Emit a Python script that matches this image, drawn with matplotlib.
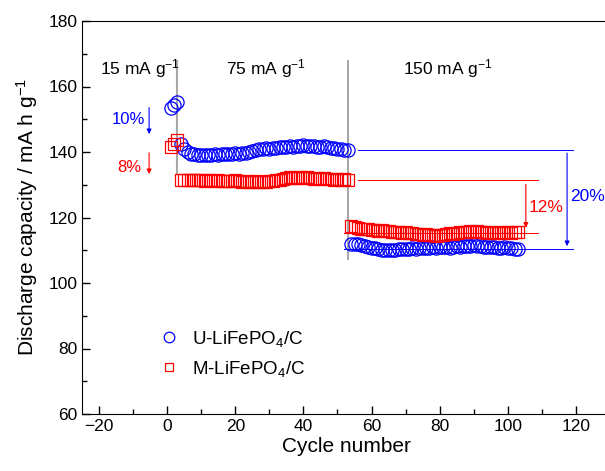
import matplotlib.pyplot as plt
import numpy as np

plt.rcParams['font.family'] = ['Liberation Sans', 'DejaVu Sans']
plt.rcParams['mathtext.fontset'] = 'custom'
plt.rcParams['mathtext.rm'] = 'Liberation Sans'
plt.rcParams['mathtext.it'] = 'Liberation Sans:italic'

# discharge capacity per cycle (mA h g-1)
u_15 = [153.5, 154.5, 155.3]
u_75 = [142.5, 141.0, 140.0, 139.5, 139.3, 139.2, 139.0, 139.1, 139.2, 139.0,
        139.3, 139.2, 139.4, 139.3, 139.5, 139.4, 139.6, 139.5, 139.8, 139.7,
        140.0, 140.2, 140.6, 140.9, 141.0, 141.2, 140.9, 141.1, 141.3, 141.5,
        141.4, 141.6, 141.8, 141.5, 141.7, 141.9, 142.0, 141.8, 141.7, 141.9,
        141.6, 141.5, 141.7, 141.4, 141.3, 141.2, 141.0, 140.9, 140.7, 140.5]
u_150 = [112.0, 111.8, 111.9, 111.5, 111.3, 111.0, 110.8, 110.6, 110.4, 110.2,
         110.1, 110.0, 110.2, 110.1, 110.3, 110.4, 110.5, 110.3, 110.6, 110.5,
         110.7, 110.6, 110.8, 110.7, 110.9, 110.8, 111.0, 110.9, 111.1, 110.8,
         111.0, 111.2, 111.1, 111.3, 111.4, 111.2, 111.5, 111.3, 111.2, 111.0,
         111.1, 110.9, 111.0, 110.8, 110.7, 110.9, 110.6, 110.8, 110.5, 110.3]

m_15 = [141.5, 142.5, 143.8]
m_75 = [131.6, 131.4, 131.5, 131.3, 131.6, 131.4, 131.5, 131.2, 131.4, 131.3,
        131.1, 131.3, 131.2, 131.0, 131.2, 131.1, 131.3, 131.0, 130.9, 131.1,
        130.8, 130.9, 131.0, 130.7, 130.9, 130.8, 131.2, 131.0, 131.3, 131.6,
        131.9, 132.1, 132.3, 132.0, 132.2, 132.4, 132.1, 132.3, 132.0, 131.9,
        132.1, 131.8, 132.0, 131.7, 131.9, 131.6, 131.8, 131.5, 131.7, 131.5]
m_150 = [117.5, 117.0, 116.8, 116.6, 116.4, 116.5, 116.2, 116.3, 116.0, 116.1,
         115.8, 115.9, 115.6, 115.7, 115.5, 115.4, 115.6, 115.3, 115.2, 115.0,
         115.1, 114.8, 114.9, 114.6, 114.7, 114.5, 114.8, 114.6, 114.9, 115.2,
         115.0, 115.4, 115.6, 115.5, 115.7, 115.8, 115.6, 115.9, 115.7, 115.5,
         115.3, 115.6, 115.4, 115.2, 115.5, 115.3, 115.6, 115.4, 115.7, 115.5]

u_cap = u_15 + u_75 + u_150
m_cap = m_15 + m_75 + m_150
cycles = np.arange(1, len(u_cap) + 1)

rate_labels = ['15 mA g$^{-1}$', '75 mA g$^{-1}$', '150 mA g$^{-1}$']
rate_x = [-8, 29, 82.5]
rate_switch = [3, 53]

fig = plt.figure(figsize=(6.05, 4.71), dpi=100)
ax = fig.add_axes([82/605, 1 - 414/471, 528/605, 393/471])

ax.plot(cycles, u_cap, 'o', mfc='none', mec='blue', ms=9.5, mew=0.9,
        label='U-LiFePO$_4$/C', zorder=3)
ax.plot(cycles, m_cap, 's', mfc='none', mec='red', ms=8, mew=0.9,
        label='M-LiFePO$_4$/C', zorder=3)

# rate change markers
ax.plot([rate_switch[0]] * 2, [133.5, 167.8], color='#a8a8a8', lw=1.5, zorder=1)
ax.plot([rate_switch[1]] * 2, [107.3, 167.8], color='#a8a8a8', lw=1.5, zorder=1)
for lab, xx in zip(rate_labels, rate_x):
    ax.text(xx, 165.6, lab, ha='center', va='center', fontsize=12.5)

# capacity drop annotations
ax.annotate('', xy=(-5.3, 144.6), xytext=(-5.3, 154.4),
            arrowprops=dict(arrowstyle='-|>', color='blue', lw=0.8, mutation_scale=7))
ax.text(-11.3, 149.8, '10%', color='blue', ha='center', va='center', fontsize=12)
ax.annotate('', xy=(-5.3, 132.4), xytext=(-5.3, 140.6),
            arrowprops=dict(arrowstyle='-|>', color='red', lw=0.8, mutation_scale=7))
ax.text(-11.1, 135.4, '8%', color='red', ha='center', va='center', fontsize=12)

ax.plot([56, 119], [140.5, 140.5], color='blue', lw=0.7)
ax.plot([52, 119], [110.4, 110.4], color='blue', lw=0.7, zorder=1)
ax.annotate('', xy=(117.4, 110.4), xytext=(117.4, 140.5),
            arrowprops=dict(arrowstyle='-|>', color='blue', lw=0.8, mutation_scale=7))
ax.text(123.3, 126.3, '20%', color='blue', ha='center', va='center', fontsize=12.5)

ax.plot([56, 109], [131.4, 131.4], color='red', lw=0.7)
ax.plot([52, 109], [115.3, 115.3], color='red', lw=0.7, zorder=1)
ax.annotate('', xy=(105.3, 116.0), xytext=(105.3, 131.0),
            arrowprops=dict(arrowstyle='-|>', color='red', lw=0.8, mutation_scale=7))
ax.text(111.2, 123.0, '12%', color='red', ha='center', va='center', fontsize=12.5)

ax.set_xlim(-25, 130)
ax.set_ylim(60, 180)
ax.set_xticks(np.arange(-20, 121, 20))
ax.set_xticks(np.arange(-20, 121, 10), minor=True)
ax.set_yticks(np.arange(60, 181, 20))
ax.set_yticks(np.arange(60, 181, 10), minor=True)
ax.tick_params(which='both', direction='in', top=False, right=False, labelsize=12.5)
ax.tick_params(which='major', length=6, width=1)
ax.tick_params(which='minor', length=3.5, width=1)
ax.spines['right'].set_visible(False)

ax.set_xlabel('Cycle number', fontsize=15, labelpad=2)
ax.set_ylabel('Discharge capacity / mA h g$^{-1}$', fontsize=15, labelpad=6)

ax.legend(loc='upper left', bbox_to_anchor=(0.105, 0.26), frameon=False,
          fontsize=13.5, handletextpad=0.4, handlelength=1.6, labelspacing=0.55,
          markerscale=0.8)

fig.savefig('out.png', dpi=100)
